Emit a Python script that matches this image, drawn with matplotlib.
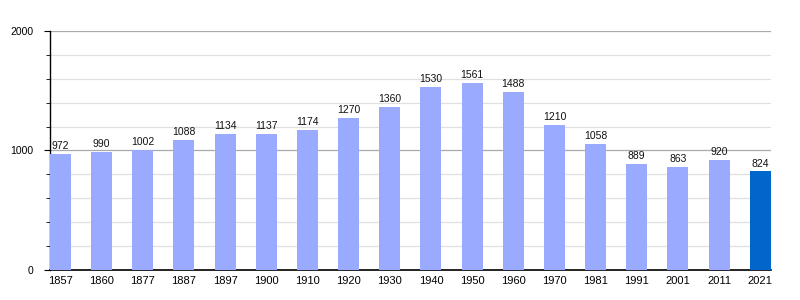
import matplotlib
matplotlib.use("Agg")
import matplotlib.pyplot as plt
from matplotlib.ticker import MultipleLocator

years = ["1857", "1860", "1877", "1887", "1897", "1900", "1910", "1920", "1930",
         "1940", "1950", "1960", "1970", "1981", "1991", "2001", "2011", "2021"]
population = [972, 990, 1002, 1088, 1134, 1137, 1174, 1270, 1360,
              1530, 1561, 1488, 1210, 1058, 889, 863, 920, 824]
y_ticks = [0, 1000, 2000]

plt.rcParams['font.family'] = ['Liberation Sans', 'DejaVu Sans']

fig = plt.figure(figsize=(8, 3), dpi=100)
ax = fig.add_axes([0.0625, 0.1, 0.901, 0.797])

x = list(range(len(years)))
colors = ["#99AAFF"] * (len(years) - 1) + ["#0066CC"]
ax.bar(x, population, width=0.51, color=colors, zorder=3)

for xi, v in zip(x, population):
    ax.text(xi, v + 25, str(v), ha="center", va="bottom", fontsize=7.5, color="#111111", zorder=4)

ax.set_xlim(-0.255, len(years) - 1 + 0.255)
ax.set_ylim(0, 2000)
ax.set_xticks(x)
ax.set_xticklabels(years, fontsize=8)
ax.set_yticks(y_ticks)
ax.set_yticklabels([str(t) for t in y_ticks], fontsize=7.5)
ax.yaxis.set_minor_locator(MultipleLocator(200))

ax.grid(axis="y", which="major", color="#AAAAAA", linewidth=0.9, zorder=0)
ax.grid(axis="y", which="minor", color="#E0E0E0", linewidth=0.9, zorder=0)

for s in ["top", "right"]:
    ax.spines[s].set_visible(False)
ax.spines["left"].set_linewidth(1.0)
ax.spines["bottom"].set_linewidth(1.2)
ax.tick_params(axis="x", length=0, pad=4)
ax.tick_params(axis="y", which="major", length=4, pad=8)
ax.tick_params(axis="y", which="minor", length=3)

fig.savefig("out.png", dpi=100)
